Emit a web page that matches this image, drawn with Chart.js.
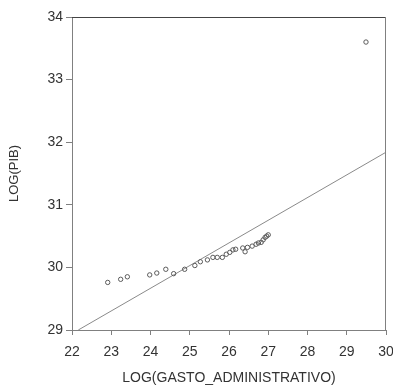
<!DOCTYPE html>
<html>
<head>
<meta charset="utf-8">
<script src="https://cdn.jsdelivr.net/npm/chart.js@4/dist/chart.umd.min.js"></script>
<style>
    html, body { margin: 0; padding: 0; background: #fff; }
    #wrap { width: 393px; height: 391px; }
</style>
</head>
<body>
<div id="wrap"><canvas id="scatter"></canvas></div>
<script>
// LOG(GASTO_ADMINISTRATIVO) vs LOG(PIB)
const gastoLog = [22.91, 23.24, 23.41, 23.98, 24.16, 24.39, 24.59, 24.87, 25.13, 25.27,
    25.45, 25.59, 25.70, 25.83, 25.93, 26.02, 26.10, 26.17, 26.35, 26.41,
    26.47, 26.59, 26.69, 26.75, 26.82, 26.87, 26.92, 26.96, 27.00, 29.49];
const pibLog = [29.76, 29.81, 29.85, 29.88, 29.91, 29.97, 29.90, 29.97, 30.03, 30.09,
    30.12, 30.16, 30.16, 30.16, 30.21, 30.24, 30.28, 30.29, 30.31, 30.25,
    30.32, 30.34, 30.37, 30.39, 30.40, 30.44, 30.48, 30.50, 30.52, 33.60];

// fitted line end points
const fitX = [22.16, 30];
const fitY = [29, 31.84];

const xTicks = [22, 23, 24, 25, 26, 27, 28, 29, 30];
const yTicks = [29, 30, 31, 32, 33, 34];

const textColor = '#333';
const axisColor = '#808080';

// top + right edges of the box
const frame = {
    id: 'frame',
    afterDraw(chart) {
        const { ctx, chartArea: a } = chart;
        ctx.save();
        ctx.strokeStyle = '#444';
        ctx.lineWidth = 1;
        ctx.beginPath();
        ctx.moveTo(a.left, a.top + 0.5);
        ctx.lineTo(a.right, a.top + 0.5);
        ctx.stroke();
        ctx.strokeStyle = axisColor;
        ctx.beginPath();
        ctx.moveTo(a.right - 0.5, a.top);
        ctx.lineTo(a.right - 0.5, a.bottom);
        ctx.stroke();
        ctx.restore();
    }
};

new Chart(document.getElementById('scatter'), {
    type: 'scatter',
    data: {
        datasets: [{
            data: gastoLog.map((x, i) => ({ x: x, y: pibLog[i] })),
            pointStyle: 'circle',
            pointRadius: 2.2,
            pointBorderWidth: 1,
            pointBorderColor: '#5a5a5a',
            pointBackgroundColor: 'rgba(0,0,0,0)'
        }, {
            type: 'line',
            data: fitX.map((x, i) => ({ x: x, y: fitY[i] })),
            borderColor: '#8a8a8a',
            borderWidth: 1,
            pointRadius: 0,
            tension: 0
        }]
    },
    options: {
        responsive: true,
        maintainAspectRatio: false,
        animation: false,
        layout: { padding: { top: 17, right: 0, left: 0, bottom: 0 } },
        plugins: {
            legend: { display: false },
            tooltip: { enabled: false }
        },
        scales: {
            x: {
                type: 'linear',
                min: 22,
                max: 30,
                afterBuildTicks: s => { s.ticks = xTicks.map(v => ({ value: v })); },
                afterFit: s => { s.height = 61; s.paddingRight = 7; },
                grid: { drawOnChartArea: false, tickLength: 5, color: axisColor },
                border: { color: axisColor },
                ticks: { color: textColor, padding: 9, font: { family: 'Liberation Sans', size: 14 } },
                title: {
                    display: true,
                    text: 'LOG(GASTO_ADMINISTRATIVO)',
                    color: textColor,
                    padding: { top: 0, bottom: 4 },
                    font: { family: 'Liberation Sans', size: 14 }
                }
            },
            y: {
                type: 'linear',
                min: 29,
                max: 34,
                afterBuildTicks: s => { s.ticks = yTicks.map(v => ({ value: v })); },
                afterFit: s => { s.width = 72; },
                grid: { drawOnChartArea: false, tickLength: 6, color: axisColor },
                border: { color: axisColor },
                ticks: { color: textColor, padding: 3, font: { family: 'Liberation Sans', size: 14 } },
                title: {
                    display: true,
                    text: 'LOG(PIB)',
                    color: textColor,
                    padding: { top: 7, bottom: 0 },
                    font: { family: 'Liberation Sans', size: 13 }
                }
            }
        }
    },
    plugins: [frame]
});
</script>
</body>
</html>
